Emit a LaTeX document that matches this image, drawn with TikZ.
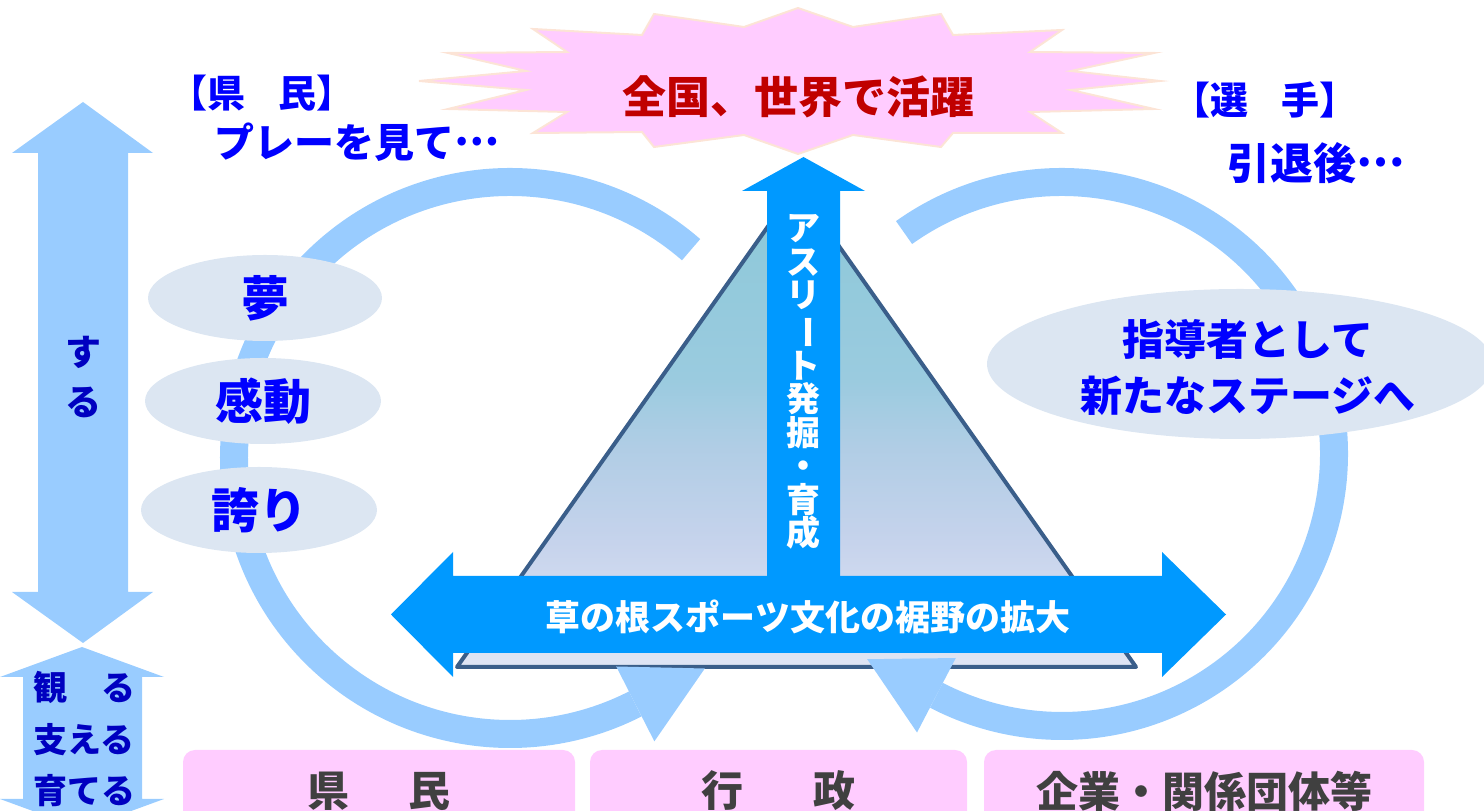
\documentclass[tikz,border=0pt]{standalone}
\usepackage{fontspec}
\usepackage{graphicx}
\newfontfamily\jp{Noto Sans CJK JP}
\usetikzlibrary{calc,shapes.geometric}
\definecolor{lb}{HTML}{99CCFF}
\definecolor{bb}{HTML}{0099FF}
\definecolor{ellfill}{HTML}{DCE6F2}
\definecolor{pinkfill}{HTML}{FFCCFF}
\definecolor{peach}{HTML}{FCE4D6}
\definecolor{tblue}{HTML}{0000FF}
\definecolor{navy}{HTML}{0000C0}
\definecolor{dred}{HTML}{C00000}
\definecolor{dgray}{HTML}{404040}
\definecolor{tristroke}{HTML}{3A5E8A}
\definecolor{tb0}{HTML}{DFE5F4}
\definecolor{tb1}{HTML}{D3DCF0}
\definecolor{tb2}{HTML}{C6D3EC}
\definecolor{tb3}{HTML}{B0CDE5}
\definecolor{tb4}{HTML}{9ACBDF}
\definecolor{tb5}{HTML}{8CC8D8}
\pgfdeclareverticalshading{trishade}{100bp}{color(0bp)=(tb0); color(25bp)=(tb0); color(32bp)=(tb1); color(38bp)=(tb2); color(48bp)=(tb3); color(55bp)=(tb4); color(75bp)=(tb5); color(100bp)=(tb5)}
\newcommand{\middots}{\raisebox{0.3em}{…}}
\begin{document}
\begin{tikzpicture}[x=1pt,y=1pt,
  jf/.style={font=\jp\bfseries\fontsize{#1}{#1}\selectfont, inner sep=0pt},
  burst/.style={fill=pinkfill, draw=peach, line width=2pt, line join=miter},
  lbarrow/.style={fill=lb},
  bbarrow/.style={fill=bb},
  ring/.style={draw=lb, line width=28pt},
  ringhead/.style={fill=lb},
  ell/.style={ellipse, fill=ellfill, inner sep=0pt},
  lowbox/.style={rectangle, rounded corners=12pt, fill=pinkfill, inner sep=0pt},
]
\useasboundingbox (0,0) rectangle (1484,811);
\begin{scope}
\clip (0,0) rectangle (1484,811);
% starburst
\draw[burst] (1160,730) -- (1071,721) -- (1154,702) -- (1030,699) -- (1062,678) -- (953,678) -- (941,664) -- (853,676) -- (798,657) -- (744,676) -- (654,664) -- (642,679) -- (533,678) -- (567,699) -- (448,702) -- (526,721) -- (419,730) -- (526,740) -- (448,758) -- (567,759) -- (533,782) -- (642,776) -- (654,797) -- (744,784) -- (798,803) -- (853,784) -- (941,797) -- (953,776) -- (1062,781) -- (1030,759) -- (1154,758) -- (1071,740) -- cycle;
\node[jf=44, text=dred] (katsu) at (798,714) {全国、世界で活躍};

% left vertical double arrow
\fill[lbarrow] (83,709) -- (153,658) -- (128,658) -- (128,219) -- (153,219) -- (83,168) -- (12,219) -- (38,219) -- (38,658) -- (12,658) -- cycle;
\node[jf=36, text=navy] (su) at (83,459) {す};
\node[jf=36, text=navy] (ru) at (83,409) {る};
% bottom-left arrow
\fill[lbarrow] (82,164) -- (164,134) -- (142,134) -- (142,12) -- (164,12) -- (82,-18) -- (0,12) -- (23,12) -- (23,134) -- (0,134) -- cycle;
\node[jf=34, text=navy] (miru) at (84,124) {観　る};
\node[jf=34, text=navy] (sasaeru) at (84,71) {支える};
\node[jf=34, text=navy] (sodateru) at (84,20) {育てる};

% triangle
\shadedraw[shading=trishade, draw=tristroke, line width=4pt, line join=round] (796.5,625) -- (1136,144) -- (457,144) -- cycle;

% rings
\coordinate (LC) at (510,353);
\draw[ring] ($(LC)+(49:276)$) arc[start angle=49, end angle=297, radius=276];
\fill[ringhead] ($(LC)+(297:318)$) -- ($(LC)+(297:234)$) -- ($(LC)+(297:276)+(27:78)$) -- cycle;
\coordinate (RC) at (1062,357);
\draw[ring] ($(RC)+(125.5:272)$) arc[start angle=125.5, end angle=-117.5, radius=272];
\fill[ringhead] ($(RC)+(242.5:314)$) -- ($(RC)+(242.5:230)$) -- ($(RC)+(242.5:272)+(152.5:78)$) -- cycle;

% ellipses
\node[ell, minimum width=234, minimum height=86, jf=48, text=tblue] (yume) at (265,513) {夢};
\node[ell, minimum width=236, minimum height=86, jf=48, text=tblue] (kandou) at (263,410) {感動};
\node[ell, minimum width=236, minimum height=86, jf=48, text=tblue] (hokori) at (259,301) {誇り};
\node[ell, minimum width=506, minimum height=150] (shidou) at (1240,447) {};
\node[font=\jp\bfseries\fontsize{42}{56}\selectfont, inner sep=0pt, align=center, text=tblue] (shidoutxt) at (1248,443) {指導者として\\新たなステージへ};

% blue arrows
\fill[bbarrow] (803.5,654) -- (865,620) -- (840,620) -- (840,233) -- (767,233) -- (767,620) -- (742,620) -- cycle;
\fill[bbarrow] (391,196.5) -- (453,259) -- (453,235) -- (1162,235) -- (1162,259) -- (1226,196.5) -- (1162,134) -- (1162,158) -- (453,158) -- (453,134) -- cycle;
\node[font=\jp\bfseries\fontsize{34}{33.5}\selectfont, inner sep=0pt, align=center, text=white] (athl) at (803.5,429) {ア\\ス\\リ\\\rotatebox[origin=c]{-90}{ー}\\ト\\発\\掘\\・\\育\\成};
\node[jf=35, text=white] (kusa) at (808,194) {草の根スポーツ文化の裾野の拡大};

% bottom boxes
\node[lowbox, minimum width=392, minimum height=82, jf=42, text=dgray] (kenmin) at (379,20) {県\hspace{1.4em}民};
\node[lowbox, minimum width=377, minimum height=82, jf=42, text=dgray] (gyousei) at (778.5,20) {行\hspace{1.65em}政};
\node[lowbox, minimum width=440, minimum height=82, jf=42, text=dgray] (kigyou) at (1204,20) {企業・関係団体等};

% top texts
\node[jf=38, text=tblue] (kenminh) at (262,718) {【県\hspace{0.85em}民】};
\node[jf=40, text=tblue] (play) at (357,669) {プレーを見て\middots};
\node[jf=38, text=tblue] (senshu) at (1265,711) {【選\hspace{0.85em}手】};
\node[jf=43, text=tblue] (intai) at (1316,648) {引退後\middots};
\end{scope}
\end{tikzpicture}
\end{document}
